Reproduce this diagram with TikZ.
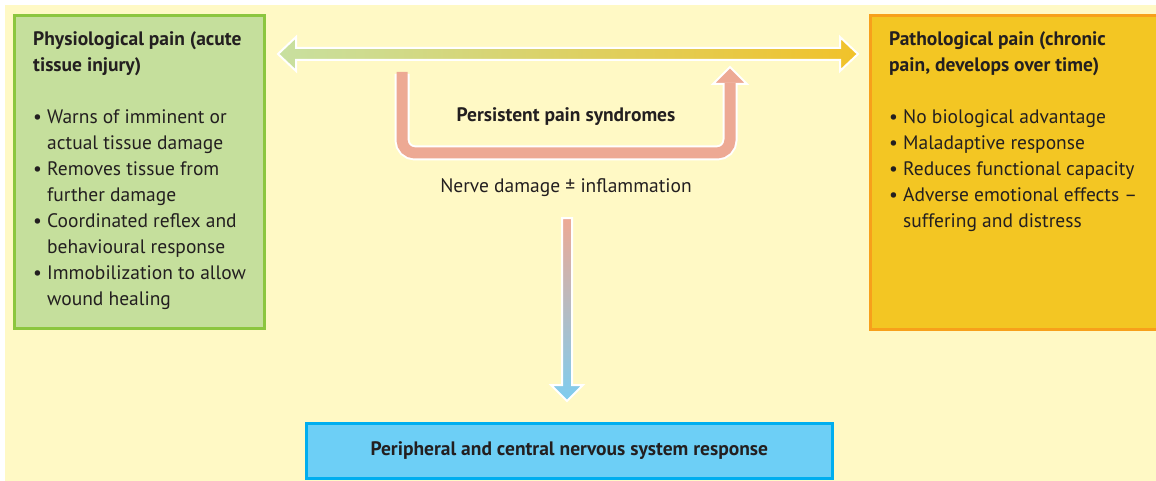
\documentclass[tikz,border=0pt]{standalone}
\usepackage{fontspec}
\setmainfont{PT Sans}
\definecolor{bgyellow}{HTML}{FFF9C5}
\definecolor{greenfill}{HTML}{C5DF9C}
\definecolor{greenline}{HTML}{8CC63F}
\definecolor{orangefill}{HTML}{F3C623}
\definecolor{orangeline}{HTML}{F7A01B}
\definecolor{bluefill}{HTML}{6DCFF6}
\definecolor{blueline}{HTML}{00AEEF}
\definecolor{salmon}{HTML}{EDA994}
\definecolor{arrowgreen}{HTML}{C8E0A0}
\definecolor{arrowgold}{HTML}{F1C22A}
\definecolor{arrowblue}{HTML}{7ECDF0}
\definecolor{ink}{HTML}{231F20}
\begin{document}
\begin{tikzpicture}[x=1pt,y=-1pt,
  every node/.style={text=ink},
  txt/.style={font=\fontsize{19.5}{26}\selectfont, inner sep=0pt, align=left, anchor=north west},
  lbl/.style={font=\fontsize{19.5}{26}\selectfont, inner sep=0pt},
  greenbox/.style={draw=greenline, fill=greenfill, line width=2.6pt, inner sep=0pt, anchor=north west},
  orangebox/.style={draw=orangeline, fill=orangefill, line width=2.6pt, inner sep=0pt, anchor=north west},
  bluebox/.style={draw=blueline, fill=bluefill, line width=2.6pt, inner sep=0pt, anchor=north west},
  outline/.style={draw=white, line width=2pt, line join=miter}
]
\newcommand{\bul}{\makebox[14pt][l]{\textbullet}}
\newcommand{\ind}{\hspace*{14pt}}
\useasboundingbox (0,0) rectangle (1156,481);
\fill[white] (0,0) rectangle (1156,481);
\fill[bgyellow] (5,5) rectangle (1156,481);

% boxes
\node[greenbox, minimum width=250pt, minimum height=313pt] (phys) at (13,14) {};
\node[orangebox, minimum width=295pt, minimum height=314pt] (path) at (869,14) {};
\node[bluebox, minimum width=526pt, minimum height=55pt] (cns) at (305,422) {};

% box texts
\node[txt] (physT) at (33,31) {\bfseries Physiological pain (acute\\\bfseries tissue injury)\\[26pt]
\bul Warns of imminent or\\ \ind actual tissue damage\\
\bul Removes tissue from\\ \ind further damage\\
\bul Coordinated reflex and\\ \ind behavioural response\\
\bul Immobilization to allow\\ \ind wound healing};

\node[txt] (pathT) at (889,31) {\bfseries Pathological pain (chronic\\\bfseries pain, develops over time)\\[26pt]
\bul No biological advantage\\
\bul Maladaptive response\\
\bul Reduces functional capacity\\
\bul Adverse emotional effects --\\ \ind suffering and distress};

\node[lbl, font=\fontsize{19.5}{26}\selectfont\bfseries] (cnsT) at (cns.center) {Peripheral and central nervous system response};
\node[lbl, font=\fontsize{19.5}{26}\selectfont\bfseries] (persist) at (566,117) {Persistent pain syndromes};
\node[lbl] (nerve) at (566,188) {Nerve damage ± inflammation};

% horizontal double arrow
\coordinate (hl) at (278,54);
\coordinate (hr) at (858,54);
\shadedraw[left color=arrowgreen, right color=arrowgold, outline]
  (hl) -- ([xshift=18pt,yshift=-17pt]hl) -- ([xshift=18pt,yshift=-6pt]hl)
  -- ([xshift=-18pt,yshift=-6pt]hr) -- ([xshift=-18pt,yshift=-17pt]hr) -- (hr)
  -- ([xshift=-18pt,yshift=17pt]hr) -- ([xshift=-18pt,yshift=6pt]hr)
  -- ([xshift=18pt,yshift=6pt]hl) -- ([xshift=18pt,yshift=17pt]hl) -- cycle;

% U arrow
\coordinate (us) at (402,72);
\coordinate (ub) at (730,84);
\coordinate (ut) at (730,67);
\draw[white, line width=15pt, rounded corners=13pt] ([yshift=-2pt]us) -- (402,153) -- (730,153) -- (ub);
\filldraw[fill=salmon, outline] (ut) -- ([xshift=17pt]ub) -- ([xshift=-17pt]ub) -- cycle;
\draw[salmon, line width=11pt, rounded corners=13pt] (us) -- (402,153) -- (730,153) -- ([yshift=1pt]ub);

% down arrow
\coordinate (dt) at (567,218);
\coordinate (dh) at (567,385);
\coordinate (dp) at (567,401);
\shadedraw[top color=salmon, bottom color=arrowblue, outline]
  ([xshift=-5pt]dt) -- ([xshift=5pt]dt) -- ([xshift=5pt]dh) -- ([xshift=16pt]dh) -- (dp)
  -- ([xshift=-16pt]dh) -- ([xshift=-5pt]dh) -- cycle;
\end{tikzpicture}
\end{document}
